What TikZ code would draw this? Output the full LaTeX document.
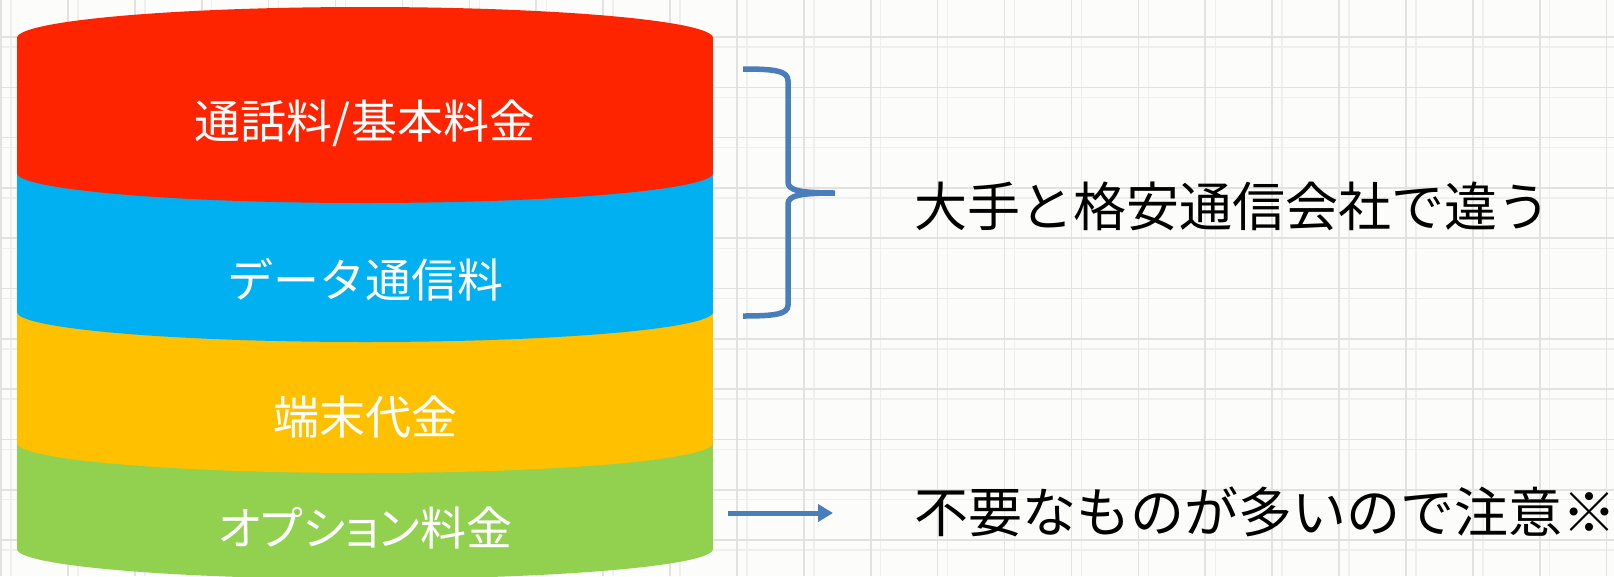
\documentclass[tikz,border=0pt]{standalone}
\usepackage{fontspec}
\newfontfamily\jpfont{Noto Sans CJK JP}
\newfontfamily\jppfont[RawFeature=+palt]{Noto Sans CJK JP}
\usetikzlibrary{arrows.meta}
\definecolor{bandred}{HTML}{FF2400}
\definecolor{bandblue}{HTML}{00B0F0}
\definecolor{bandorange}{HTML}{FFC000}
\definecolor{bandgreen}{HTML}{92D050}
\definecolor{accent}{HTML}{4A7EBB}
\definecolor{gridc}{HTML}{E2E2E0}
\definecolor{gridd}{HTML}{EFEFED}
\definecolor{bgc}{HTML}{FCFCFA}
\begin{document}
\begin{tikzpicture}[x=1pt,y=-1pt,
  gridline/.style={draw=gridc,line width=1.6pt},
  gridfaint/.style={draw=gridd,line width=1.4pt},
  bandlabel/.style={text=white,font=\jpfont\fontsize{46}{46}\selectfont,inner sep=0pt,anchor=center},
  notelabel/.style={text=black,font=\jpfont\fontsize{53}{53}\selectfont,inner sep=0pt,anchor=west},
  braceline/.style={draw=accent,line width=5.5pt},
  arrowline/.style={draw=accent,line width=5pt,-{Triangle[length=15pt,width=17pt]}}]
\useasboundingbox (0,0) rectangle (1614,576);
\fill[bgc] (0,0) rectangle (1614,576);
% grid
\foreach \i in {0,...,24} {
  \draw[gridfaint] ({11+66.9*\i},0) -- ({11+66.9*\i},576);
}
\foreach \j in {1,...,11} {
  \draw[gridfaint] (0,{-3.3+50.3*\j}) -- (1614,{-3.3+50.3*\j});
}
\foreach \i in {0,...,24} {
  \draw[gridline] ({1+66.9*\i},0) -- ({1+66.9*\i},576);
}
\foreach \j in {1,...,11} {
  \draw[gridline] (0,{-13.3+50.3*\j}) -- (1614,{-13.3+50.3*\j});
}
% cylinder, painted bottom band first
\fill[bandgreen] (17,443) rectangle (713,549);
\fill[bandgreen] (365,549) ellipse [x radius=348, y radius=30];
\fill[bandorange] (17,312) rectangle (713,443);
\fill[bandorange] (365,443) ellipse [x radius=348, y radius=30];
\fill[bandblue] (17,173) rectangle (713,312);
\fill[bandblue] (365,312) ellipse [x radius=348, y radius=30];
\fill[bandred] (17,38) rectangle (713,173);
\fill[bandred] (365,173) ellipse [x radius=348, y radius=30];
\fill[bandred] (365,38) ellipse [x radius=348, y radius=31];
% band labels
\node[bandlabel] (l1) at (365,123) {通話料/基本料金};
\node[bandlabel] (l2) at (365,280) {データ通信料};
\node[bandlabel] (l3) at (365,417) {端末代金};
\node[bandlabel,font=\jppfont\fontsize{46}{46}\selectfont] (l4) at (365,528) {オプション料金};
% notes
\node[notelabel] (n1) at (914,206) {大手と格安通信会社で違う};
\node[notelabel,font=\jpfont\fontsize{54}{54}\selectfont] (n2) at (914,512) {不要なものが多いので注意※};
% brace
\coordinate (bt) at (743,69);
\coordinate (bm) at (835,193);
\coordinate (bb) at (743,316);
\draw[braceline] (bt) .. controls (776,69) and (788,71) .. (788,81)
  -- (788,182) .. controls (788,190) and (798,193) .. (bm)
  .. controls (798,193) and (788,196) .. (788,204)
  -- (788,305) .. controls (788,314) and (776,316) .. (bb);
% arrow
\coordinate (a0) at (728,513);
\coordinate (a1) at (833,513);
\draw[arrowline] (a0) -- (a1);
\end{tikzpicture}
\end{document}
